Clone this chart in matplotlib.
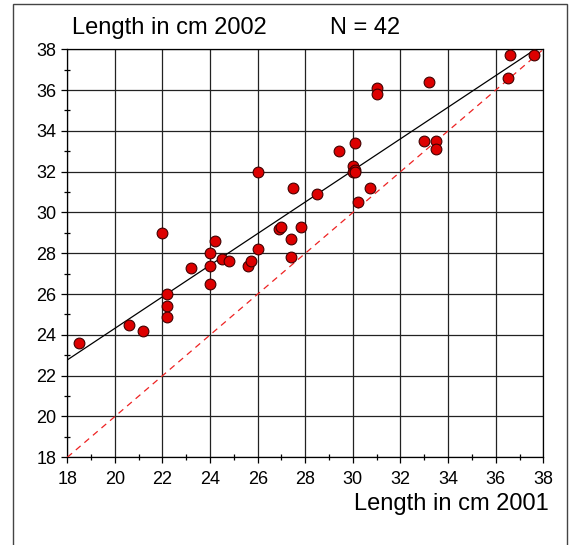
import numpy as np
import matplotlib
matplotlib.use("Agg")
import matplotlib.pyplot as plt
from matplotlib.patches import Rectangle

plt.rcParams['font.family'] = ['Liberation Sans', 'DejaVu Sans']

x2001 = [18.5, 20.6, 21.2, 22.2, 22.2, 22.2, 23.2, 24.0, 24.0, 24.0, 24.2, 24.5,
         24.8, 25.6, 25.7, 26.0, 27.4, 27.4, 26.0, 27.5, 22.0, 26.9, 27.0, 27.8,
         36.6, 37.6, 36.5, 33.2, 31.0, 31.0, 33.0, 33.5, 33.5, 30.1, 29.4, 30.0,
         30.0, 30.1, 30.7, 28.5, 30.2, 30.1]
y2002 = [23.6, 24.5, 24.2, 26.0, 25.4, 24.9, 27.3, 28.0, 27.4, 26.5, 28.6, 27.7,
         27.6, 27.4, 27.6, 28.2, 28.7, 27.8, 32.0, 31.2, 29.0, 29.2, 29.3, 29.3,
         37.7, 37.7, 36.6, 36.4, 36.1, 35.8, 33.5, 33.5, 33.1, 33.4, 33.0, 32.3,
         32.0, 32.1, 31.2, 30.9, 30.5, 32.0]
xticks = [18, 20, 22, 24, 26, 28, 30, 32, 34, 36, 38]
yticks = [18, 20, 22, 24, 26, 28, 30, 32, 34, 36, 38]

W, H = 572, 545
fig = plt.figure(figsize=(W/100, H/100), dpi=100)
ax = fig.add_axes([67.3/W, 1-457.3/H, 476/W, 408/H])

ax.set_xlim(18, 38)
ax.set_ylim(18, 38)
ax.set_xticks(xticks)
ax.set_yticks(yticks)
ax.set_xticks(np.arange(19, 38, 2), minor=True)
ax.set_yticks(np.arange(19, 38, 2), minor=True)
ax.grid(True, which='major', color='#222222', linewidth=0.9)
ax.set_axisbelow(True)
ax.tick_params(which='major', direction='out', length=4, labelsize=13, width=0.9)
ax.tick_params(axis='x', which='major', pad=6)
ax.tick_params(axis='y', which='major', pad=4)
ax.tick_params(which='minor', direction='inout', length=5, width=0.9)
for s in ax.spines.values():
    s.set_linewidth(0.9)

xs = np.array(x2001)
ys = np.array(y2002)
slope, inter = np.polyfit(xs, ys, 1)
lx = np.array([18, 38])
ax.plot(lx, inter + slope*lx, color='black', linewidth=0.9, zorder=3)
ax.plot(lx, lx, color='#ee2222', linewidth=0.9, linestyle=(0, (5, 4)), zorder=3)

ax.scatter(xs, ys, s=60, color='#dd0000', edgecolors='#400000', linewidths=0.8,
           zorder=4, clip_on=False)

fig.text(72/W, 1-28/H, 'Length in cm 2002', fontsize=17, va='center', ha='left')
fig.text(330/W, 1-28/H, 'N = 42', fontsize=17, va='center', ha='left')
fig.text(549/W, 1-504/H, 'Length in cm 2001', fontsize=17, va='center', ha='right')

fig.add_artist(Rectangle((13/W, -0.05), (567-13)/W, 1.05-4/H, transform=fig.transFigure,
                         fill=False, edgecolor='#444444', linewidth=1.0))

fig.savefig('out.png', dpi=100)
